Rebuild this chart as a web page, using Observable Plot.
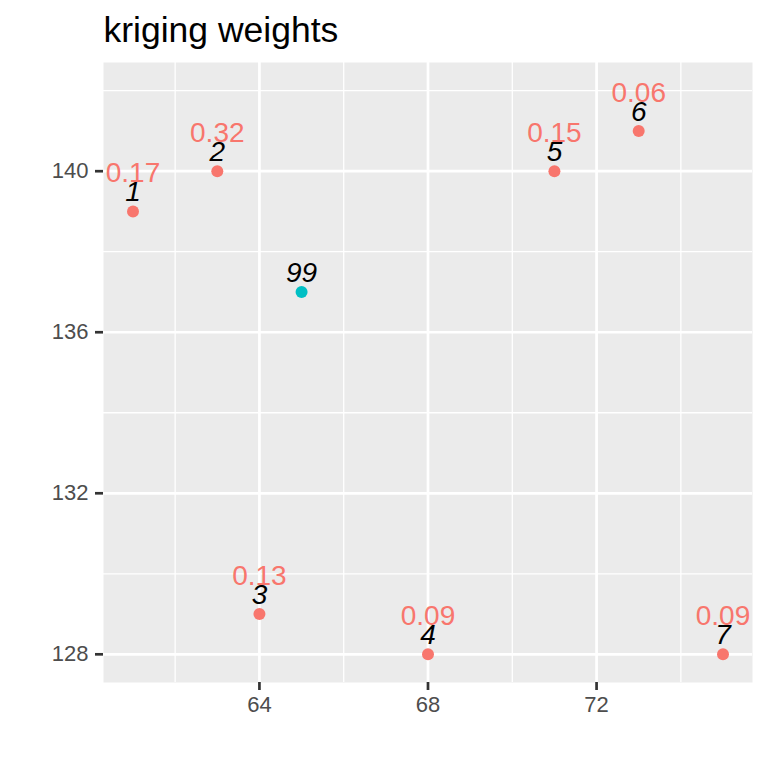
<!DOCTYPE html>
<html>
<head>
<meta charset="utf-8">
<script src="https://cdn.jsdelivr.net/npm/d3@7"></script>
<script src="https://cdn.jsdelivr.net/npm/@observablehq/plot@0.6"></script>
<style>
  html, body { margin: 0; padding: 0; background: #fff; }
  svg { display: block; }
</style>
</head>
<body>
<div id="chart"></div>
<script>
const ids = ["1", "2", "3", "4", "5", "6", "7", "99"];
const xs = [61, 63, 64, 68, 71, 73, 75, 65];
const ys = [139, 140, 129, 128, 140, 141, 128, 137];
const weights = ["0.17", "0.32", "0.13", "0.09", "0.15", "0.06", "0.09", null];
const groups = ["obs", "obs", "obs", "obs", "obs", "obs", "obs", "pred"];

const xMajor = [64, 68, 72];
const xMinor = [62, 66, 70, 74];
const yMajor = [128, 132, 136, 140];
const yMinor = [130, 134, 138, 142];
const titleText = "kriging weights";

const data = ids.map((id, i) => ({id, x: xs[i], y: ys[i], w: weights[i], g: groups[i]}));
const obs = data.filter(d => d.w !== null);

const font = "'Liberation Sans', Arial, Helvetica, sans-serif";

const chart = Plot.plot({
  width: 768,
  height: 768,
  marginLeft: 103,
  marginRight: 16,
  marginTop: 62,
  marginBottom: 86,
  style: {fontFamily: font, background: "#fff", overflow: "visible"},
  x: {domain: [60.3, 75.7], ticks: xMajor, tickSize: 8, tickPadding: 6, label: null},
  y: {domain: [127.3, 142.7], ticks: yMajor, tickSize: 8, tickPadding: 7, label: null},
  color: {domain: ["obs", "pred"], range: ["#F8766D", "#00BFC4"]},
  marks: [
    Plot.frame({fill: "#EBEBEB", stroke: null}),
    Plot.ruleX(xMinor, {stroke: "#fff", strokeWidth: 1.3}),
    Plot.ruleY(yMinor, {stroke: "#fff", strokeWidth: 1.3}),
    Plot.ruleX(xMajor, {stroke: "#fff", strokeWidth: 2.7}),
    Plot.ruleY(yMajor, {stroke: "#fff", strokeWidth: 2.7}),
    Plot.axisX(xMajor, {tickSize: 8, tickPadding: 6, stroke: "#333", strokeWidth: 2.7, fill: "#4D4D4D", fontSize: 22, label: null}),
    Plot.axisY(yMajor, {tickSize: 8, tickPadding: 7, stroke: "#333", strokeWidth: 2.7, fill: "#4D4D4D", fontSize: 22, label: null}),
    Plot.dot(data, {x: "x", y: "y", fill: "g", r: 6, stroke: null}),
    Plot.text(data, {x: "x", y: "y", text: "id", fill: "#000", fontSize: 28, fontStyle: "italic", lineAnchor: "bottom", dy: -10}),
    Plot.text(obs, {x: "x", y: d => d.y + 1, text: "w", fill: "#F8766D", fontSize: 28, lineAnchor: "middle", dy: 2}),
    Plot.text([titleText], {frameAnchor: "top-left", text: d => d, textAnchor: "start", lineAnchor: "bottom", dy: -21, fontSize: 35.5, fill: "#000"})
  ]
});
document.getElementById("chart").appendChild(chart);
</script>
</body>
</html>
